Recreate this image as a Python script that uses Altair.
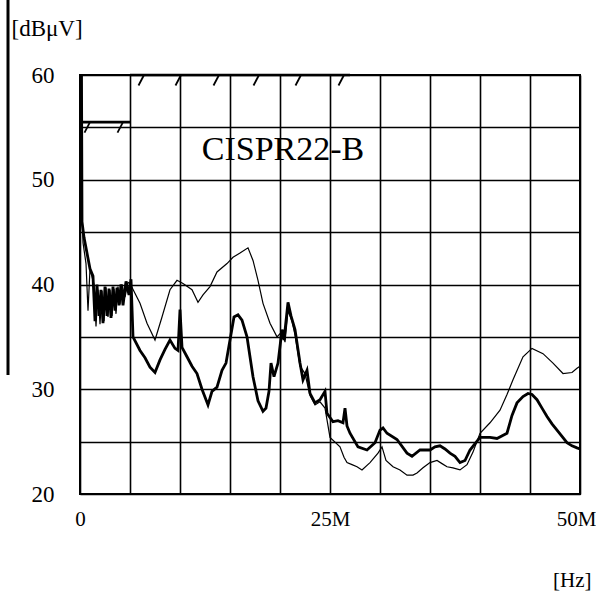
import altair as alt
import pandas as pd

# ---- data (frequency in MHz, level in dBuV) ----
thick_f = [0.15, 0.2, 0.4, 0.7, 1.0, 1.3, 1.5, 1.7, 1.9, 2.1, 2.3, 2.5, 2.7, 2.9, 3.1, 3.3, 3.5,
           3.7, 3.9, 4.1, 4.3, 4.6, 4.9, 5.1, 5.3, 6.0, 6.5, 7.0, 7.5, 8.0, 8.5, 9.0, 9.5, 9.8,
           10.0, 10.2, 10.7, 11.2, 11.7, 12.2, 12.8, 13.2, 13.7, 14.2, 14.6, 15.0, 15.4, 15.8,
           16.2, 16.7, 17.3, 17.8, 18.3, 18.6, 18.9, 19.1, 19.4, 19.8, 20.2, 20.4, 20.8, 21.1,
           21.5, 22.0, 22.3, 22.7, 23.0, 23.5, 24.0, 24.5, 24.7, 25.3, 25.8, 26.3, 26.5, 26.7,
           27.0, 27.8, 28.7, 29.5, 30.0, 30.3, 30.7, 31.7, 32.7, 33.2, 34.0, 35.0, 35.5, 36.0,
           36.5, 37.0, 37.5, 38.0, 38.5, 39.0, 40.0, 41.0, 41.7, 42.7, 43.2, 43.7, 44.3, 44.8,
           45.2, 45.7, 46.2, 46.7, 47.2, 47.7, 48.2, 48.7, 49.2, 49.7, 50.0]
thick_db = [60, 46, 44.5, 43, 41.5, 40.8, 36.5, 40, 37, 39.5, 36.3, 39.8, 37, 39.6, 36.8, 39.8, 37.5,
            39.7, 38, 40, 38, 40.3, 39, 40.5, 35, 33.7, 33, 32.1, 31.6, 32.8, 33.8, 34.7, 33.9, 33.7,
            37.6, 34, 33.1, 32.2, 31.5, 30, 28.5, 29.8, 30.2, 31.8, 32.5, 34.7, 36.9, 37.1,
            36.6, 35, 31.2, 28.9, 27.9, 28.2, 29.8, 32.5, 31.2, 32.5, 35.7, 34.7, 38.3, 37,
            35.7, 32.5, 30.9, 31.8, 29.6, 28.7, 29, 29.8, 27.7, 26.9, 27, 26.8, 28.2, 26.5,
            25.8, 24.5, 24.2, 24.9, 26.1, 26.3, 25.8, 25.2, 23.9, 23.6, 24.2, 24.2, 24.5, 24.6,
            24.3, 23.9, 23.6, 23, 23.2, 24.2, 25.4, 25.4, 25.3, 25.8, 27.5, 28.7, 29.3, 29.6,
            29.5, 29, 28.2, 27.4, 26.7, 26.1, 25.5, 24.9, 24.6, 24.4, 24.3]

thin_f = [0.15, 0.2, 0.3, 0.6, 0.8, 1.0, 1.4, 1.6, 1.8, 2.0, 2.2, 2.4, 2.6, 2.8, 3.0, 3.2, 3.4,
          3.6, 3.8, 4.0, 4.2, 4.5, 4.8, 5.0, 6.0, 6.7, 7.5, 8.2, 9.0, 9.7, 10.3, 11.2, 11.8,
          12.3, 13.0, 13.7, 14.7, 15.3, 16.0, 16.8, 17.3, 17.8, 18.3, 19.0, 19.7, 20.2, 20.5,
          20.8, 21.2, 21.5, 22.0, 22.5, 23.0, 23.5, 24.0, 24.5, 25.0, 26.0, 26.4, 26.7, 27.2,
          27.7, 28.2, 29.0, 29.8, 30.2, 30.6, 31.3, 32.0, 32.7, 33.3, 33.7, 34.3, 35.0, 35.7,
          36.2, 36.7, 37.3, 38.0, 38.7, 39.3, 40.0, 41.0, 42.0, 42.7, 43.3, 44.3, 45.2, 46.3,
          47.3, 48.3, 49.2, 49.7, 50.0]
thin_db = [60, 47, 44, 42, 37.5, 41.5, 40, 36, 39.5, 36.2, 39.4, 36.5, 39.7, 36.9, 39.5, 37, 39.6,
           37.2, 39.8, 38.1, 40, 38.8, 40.2, 40.1, 38.2, 36.3, 34.7, 36.9, 39.5, 40.4, 40.1, 39.5, 38.3,
           39, 39.8, 41.2, 42, 42.6, 43, 43.5, 42.3, 40.4, 38.2, 36.3, 35, 35.5, 34.5,
           37.5, 36.5, 35.2, 32.2, 31.5, 29.4, 28.5, 28.8, 28.2, 25.4, 24.5, 23.5, 23, 22.8,
           22.6, 22.3, 23, 23.9, 24.5, 23.2, 22.6, 22.3, 21.8, 21.8, 22, 22.5, 23, 23.2,
           22.9, 22.6, 22.5, 22.3, 22.8, 24, 25.8, 26.8, 28, 29.5, 30.9, 33.1, 33.9, 33.4,
           32.5, 31.5, 31.6, 32, 32.2]

# CISPR22-B limit: two horizontal segments
limit_seg = ["low", "low", "high", "high"]
limit_f = [0.15, 5, 5, 27]
limit_db = [55.5, 55.5, 60, 60]
hatch_f = [0.9, 4.2, 6.3, 10, 13.8, 17.8, 22, 26.3]
hatch_db = [55.5, 55.5, 60, 60, 60, 60, 60, 60]

note_f = [20.3]
note_db = [52.8]
note_text = ["CISPR22-B"]

x_ticks = [0, 5, 10, 15, 20, 25, 30, 35, 40, 45, 50]
y_ticks = [20, 25, 30, 35, 40, 45, 50, 55, 60]

# ---- tables ----
traces = pd.DataFrame(
    [{"f": f, "db": d, "series": "thick", "i": k} for k, (f, d) in enumerate(zip(thick_f, thick_db))]
    + [{"f": f, "db": d, "series": "thin", "i": k} for k, (f, d) in enumerate(zip(thin_f, thin_db))]
)
limit = pd.DataFrame({"f": limit_f, "db": limit_db, "seg": limit_seg})
hatch = pd.DataFrame({"f": hatch_f, "db": hatch_db})
note = pd.DataFrame({"f": note_f, "db": note_db, "t": note_text})

FONT = "Liberation Serif"

xscale = alt.Scale(domain=[0, 50], nice=False, zero=False)
yscale = alt.Scale(domain=[20, 60], nice=False, zero=False)

xaxis = alt.Axis(
    values=x_ticks, grid=True, gridColor="black", gridWidth=1.6, gridOpacity=1,
    ticks=False, domain=False, labelFlush=False, labelOverlap=False,
    labelExpr="datum.value == 0 ? '0' : (datum.value == 25 ? '25M' : (datum.value == 50 ? '50M' : ''))",
    labelOffset=alt.condition("datum.value == 50", alt.value(-4), alt.value(0)),
    labelFont=FONT, labelFontSize=21, labelColor="black", labelPadding=14,
    title="[Hz]", titleFont=FONT, titleFontSize=21, titleFontWeight="normal", titleColor="black",
    titleAnchor="end", titleAlign="right", titleX=511, titleY=86, titleBaseline="middle",
)
yaxis = alt.Axis(
    values=y_ticks, grid=True, gridColor="black", gridWidth=1.6, gridOpacity=1,
    ticks=False, domain=False, labelOverlap=False,
    labelExpr="datum.value % 10 == 0 ? datum.value : ''",
    labelFont=FONT, labelFontSize=23, labelColor="black", labelPadding=26,
    title="[dBμV]", titleFont=FONT, titleFontSize=23, titleFontWeight="normal", titleColor="black",
    titleAngle=0, titleAlign="left", titleX=-69, titleY=-47, titleBaseline="middle",
)

base_x = alt.X("f:Q", scale=xscale, axis=xaxis)
base_y = alt.Y("db:Q", scale=yscale, axis=yaxis)

thin_layer = alt.Chart(traces).transform_filter("datum.series == 'thin'").mark_line(
    color="black", strokeWidth=1.2
).encode(x=base_x, y=base_y, order="i:Q")

thick_layer = alt.Chart(traces).transform_filter("datum.series == 'thick'").mark_line(
    color="black", strokeWidth=2.8
).encode(x=alt.X("f:Q", scale=xscale), y=alt.Y("db:Q", scale=yscale), order="i:Q")

limit_layer = alt.Chart(limit).mark_line(color="black", strokeWidth=2.6).encode(
    x=alt.X("f:Q", scale=xscale), y=alt.Y("db:Q", scale=yscale), detail="seg:N"
)

hatch_layer = alt.Chart(hatch).transform_calculate(
    x1="datum.f - 0.45", x2="datum.f + 0.1", y1="datum.db - 1.0"
).mark_rule(color="black", strokeWidth=1.8).encode(
    x=alt.X("x1:Q", scale=xscale), x2="x2:Q",
    y=alt.Y("y1:Q", scale=yscale), y2="db:Q"
)

note_layer = alt.Chart(note).mark_text(
    font=FONT, fontSize=34, color="black", align="center", baseline="middle"
).encode(x=alt.X("f:Q", scale=xscale), y=alt.Y("db:Q", scale=yscale), text="t:N")

border = alt.Chart(note).mark_rule(color="black", strokeWidth=3).encode(
    x=alt.value(-72), y=alt.value(-75), y2=alt.value(300)
)

chart = alt.layer(
    thin_layer, thick_layer, limit_layer, hatch_layer, note_layer, border
).properties(
    width=500, height=419,
    autosize=alt.AutoSizeParams(type="none"),
    padding={"left": 80, "top": 75, "right": 16, "bottom": 98},
    background="white",
).configure_view(
    stroke="black", strokeWidth=2
)

chart.save("out.html", embed_options={"renderer": "svg", "actions": False})
